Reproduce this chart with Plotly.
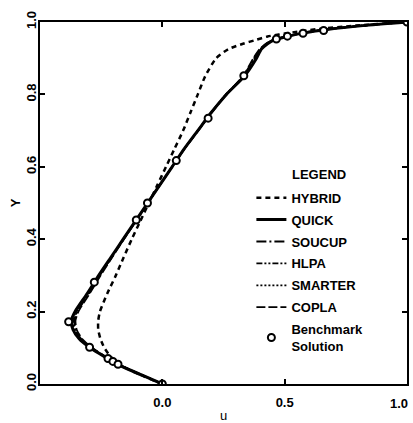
import plotly.graph_objects as go

# Vertical centreline of the driven cavity: u-velocity against height Y
y_grid = [0.0, 0.025, 0.05, 0.075, 0.1, 0.125, 0.15, 0.175, 0.2, 0.25, 0.3,
          0.35, 0.4, 0.45, 0.5, 0.55, 0.6, 0.65, 0.7, 0.75, 0.8, 0.85, 0.9,
          0.925, 0.94, 0.95, 0.96, 0.97, 0.98, 0.99, 1.0]

u_hybrid = [0.0, -0.09, -0.165, -0.21, -0.237, -0.253, -0.262, -0.262, -0.255,
            -0.225, -0.19, -0.158, -0.125, -0.09, -0.055, -0.02, 0.015, 0.05,
            0.085, 0.115, 0.145, 0.175, 0.22, 0.27, 0.33, 0.38, 0.43, 0.52,
            0.63, 0.79, 1.0]
u_quick = [0.0, -0.085, -0.17, -0.235, -0.295, -0.34, -0.365, -0.372, -0.357,
           -0.307, -0.26, -0.21, -0.16, -0.11, -0.06, -0.01, 0.04, 0.09,
           0.145, 0.2, 0.262, 0.335, 0.385, 0.405, 0.43, 0.455, 0.51, 0.58,
           0.68, 0.82, 1.0]
u_soucup = [0.0, -0.084, -0.168, -0.232, -0.29, -0.332, -0.355, -0.36, -0.347,
            -0.3, -0.255, -0.207, -0.158, -0.109, -0.059, -0.01, 0.04, 0.091,
            0.146, 0.2, 0.26, 0.33, 0.375, 0.4, 0.425, 0.452, 0.505, 0.575,
            0.675, 0.815, 1.0]
u_hlpa = [0.0, -0.084, -0.168, -0.233, -0.291, -0.334, -0.357, -0.362, -0.349,
          -0.302, -0.257, -0.208, -0.159, -0.109, -0.06, -0.01, 0.04, 0.09,
          0.145, 0.2, 0.26, 0.332, 0.378, 0.402, 0.427, 0.453, 0.507, 0.577,
          0.677, 0.817, 1.0]
u_smarter = [0.0, -0.085, -0.169, -0.234, -0.293, -0.337, -0.361, -0.367,
             -0.353, -0.305, -0.258, -0.209, -0.16, -0.11, -0.06, -0.01, 0.04,
             0.09, 0.145, 0.2, 0.261, 0.334, 0.382, 0.404, 0.429, 0.454, 0.509,
             0.579, 0.679, 0.819, 1.0]
u_copla = [0.0, -0.083, -0.166, -0.23, -0.287, -0.328, -0.35, -0.355, -0.343,
           -0.297, -0.252, -0.205, -0.157, -0.108, -0.059, -0.01, 0.04, 0.091,
           0.147, 0.202, 0.262, 0.33, 0.372, 0.398, 0.423, 0.45, 0.503, 0.573,
           0.673, 0.813, 1.0]

# Benchmark solution points
bench_y = [1.0, 0.9766, 0.9688, 0.9609, 0.9531, 0.8516, 0.7344, 0.6172, 0.5,
           0.4531, 0.2813, 0.1719, 0.1016, 0.0703, 0.0625, 0.0547, 0.0]
bench_u = [1.0, 0.65928, 0.57492, 0.51117, 0.46604, 0.33304, 0.18719, 0.05702,
           -0.0608, -0.10648, -0.27805, -0.38289, -0.2973, -0.2222, -0.20196,
           -0.18109, 0.0]

x_tick_vals = [0.0, 0.5, 1.0]
x_tick_text = ["0.0", "0.5", "1.0"]
y_tick_vals = [0.0, 0.2, 0.4, 0.6, 0.8, 1.0]
y_tick_text = ["0.0", "0.2", "0.4", "0.6", "0.8", "1.0"]

FONT = "Liberation Sans, Arial, Helvetica, sans-serif"
TICK_FONT = dict(family=FONT, size=13, color="black", weight="bold")

schemes = [
    ("HYBRID", u_hybrid, "5px,4px", 2.5),
    ("QUICK", u_quick, "solid", 3.0),
    ("SOUCUP", u_soucup, "10px,3px,2px,3px", 1.8),
    ("HLPA", u_hlpa, "6px,2px,2px,2px,2px,2px", 1.8),
    ("SMARTER", u_smarter, "2px,2px", 1.8),
    ("COPLA", u_copla, "9px,3px", 1.8),
]

fig = go.Figure()
for i, (name, u_vals, dash, width) in enumerate(schemes):
    fig.add_trace(go.Scatter(
        x=u_vals, y=y_grid, mode="lines", name=name,
        legendgroup=f"g{i}",
        line=dict(color="black", width=width, dash=dash, shape="spline",
                  smoothing=0.6),
    ))

fig.add_trace(go.Scatter(
    x=bench_u, y=bench_y, mode="markers", name="Benchmark<br>Solution",
    legendgroup="g_bench",
    marker=dict(symbol="circle", size=7, color="white",
                line=dict(color="black", width=2)),
))

axis_common = dict(
    showline=True, linecolor="black", linewidth=2, mirror="ticks",
    ticks="inside", ticklen=5, tickwidth=2, tickcolor="black",
    showgrid=False, zeroline=False, automargin=False,
    tickfont=TICK_FONT,
)

# The last x label sits flush with the right frame edge, so it is drawn
# right-anchored at its tick instead of centred on it.
x_axis_text = x_tick_text[:-1] + [""]
fig.update_xaxes(
    range=[-0.5, 1.0], tickvals=x_tick_vals, ticktext=x_axis_text,
    title=dict(text="u", font=dict(family=FONT, size=13, color="black"),
               standoff=8),
    ticklabelstandoff=5,
    **axis_common,
)
fig.add_annotation(
    text=x_tick_text[-1], x=x_tick_vals[-1], xref="x",
    y=0, yref="paper", xanchor="right", yanchor="top",
    xshift=3, yshift=-10, showarrow=False, font=TICK_FONT,
)

fig.update_yaxes(
    range=[0.0, 1.0], tickvals=y_tick_vals, ticktext=y_tick_text,
    tickangle=-90,
    title=dict(text="Y", font=dict(family=FONT, size=13, color="black",
                                   weight="bold"), standoff=0),
    ticklabelstandoff=-3,
    **axis_common,
)

fig.add_annotation(
    text="LEGEND", xref="paper", yref="paper", x=0.68, y=0.58,
    xanchor="left", yanchor="middle", showarrow=False,
    font=dict(family=FONT, size=13, color="black", weight="bold"),
)

fig.update_layout(
    width=413, height=423,
    margin=dict(l=40, r=6, t=22, b=39),
    paper_bgcolor="white", plot_bgcolor="white",
    showlegend=True,
    legend=dict(
        x=0.576, y=0.556, xanchor="left", yanchor="top",
        bgcolor="rgba(0,0,0,0)", borderwidth=0,
        tracegroupgap=2, itemwidth=30,
        font=dict(family=FONT, size=13, color="black", weight="bold"),
    ),
)

fig.write_html("out.html")
